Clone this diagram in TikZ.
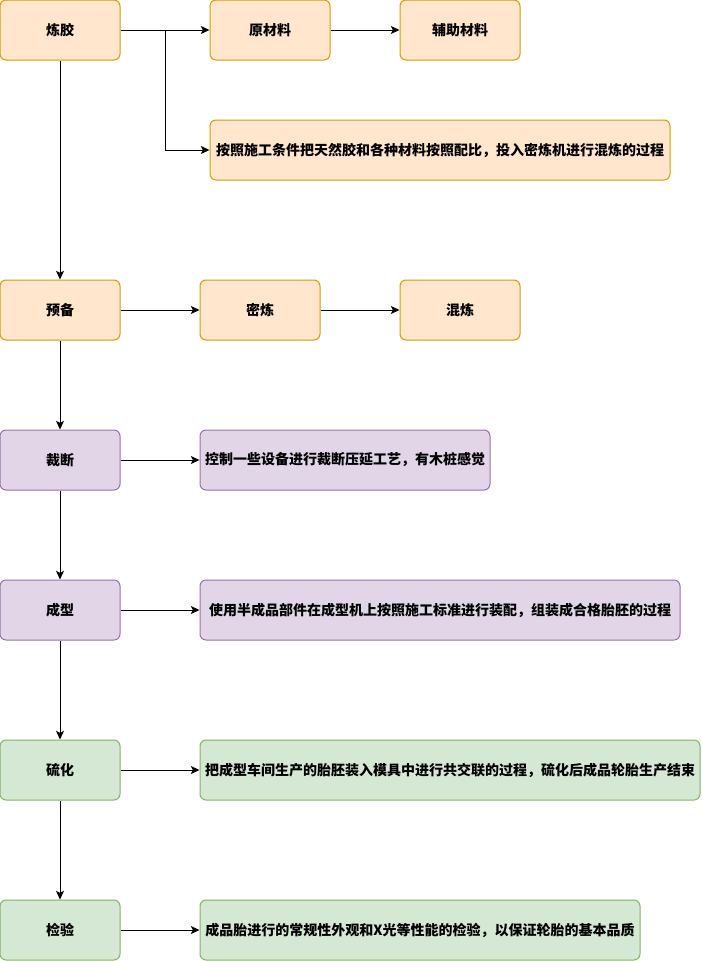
\documentclass[tikz,border=0pt]{standalone}
\usepackage{fontspec}
\newfontfamily\cjk{Noto Sans CJK SC}
\usetikzlibrary{arrows.meta}
\definecolor{orfill}{HTML}{FFE6CC}
\definecolor{ordraw}{HTML}{D79B00}
\definecolor{pufill}{HTML}{E1D5E7}
\definecolor{pudraw}{HTML}{9673A6}
\definecolor{grfill}{HTML}{D5E8D4}
\definecolor{grdraw}{HTML}{82B366}
\begin{document}
\begin{tikzpicture}[x=0.75pt, y=-0.75pt,
    box/.style={draw, rectangle, rounded corners=4.5pt, minimum height=45pt,
                text centered, align=center, line width=0.75pt,
                font=\cjk\bfseries\fontsize{10.5pt}{12pt}\selectfont, inner sep=0pt},
    step1/.style={box, fill=orfill, draw=ordraw},
    step2/.style={box, fill=pufill, draw=pudraw},
    step3/.style={box, fill=grfill, draw=grdraw},
    arr/.style={-{Stealth[length=6.5pt, width=6pt, inset=1.5pt]}, line width=0.75pt}]
    \useasboundingbox (0,0) rectangle (701,961);
    \node[step1, minimum width=90pt]  (lj)    at (60,  30)  {炼胶};
    \node[step1, minimum width=90pt]  (ycl)   at (270, 30)  {原材料};
    \node[step1, minimum width=90pt]  (fzcl)  at (460, 30)  {辅助材料};
    \node[step1, minimum width=345pt] (ljms)  at (440, 150) {按照施工条件把天然胶和各种材料按照配比，投入密炼机进行混炼的过程};
    \node[step1, minimum width=90pt]  (yb)    at (60,  310) {预备};
    \node[step1, minimum width=90pt]  (ml)    at (260, 310) {密炼};
    \node[step1, minimum width=90pt]  (hl)    at (460, 310) {混炼};
    \node[step2, minimum width=90pt]  (cd)    at (60,  460) {裁断};
    \node[step2, minimum width=217.5pt] (cdms) at (345, 460) {控制一些设备进行裁断压延工艺，有木桩感觉};
    \node[step2, minimum width=90pt]  (cx)    at (60,  610) {成型};
    \node[step2, minimum width=360pt] (cxms)  at (440, 610) {使用半成品部件在成型机上按照施工标准进行装配，组装成合格胎胚的过程};
    \node[step3, minimum width=90pt]  (lh)    at (60,  770) {硫化};
    \node[step3, minimum width=375pt] (lhms)  at (450, 770) {把成型车间生产的胎胚装入模具中进行共交联的过程，硫化后成品轮胎生产结束};
    \node[step3, minimum width=90pt]  (jy)    at (60,  930) {检验};
    \node[step3, minimum width=330pt] (jyms)  at (420, 930) {成品胎进行的常规性外观和X光等性能的检验，以保证轮胎的基本品质};
    \draw[arr] (lj) -- (ycl);
    \draw[arr] (ycl) -- (fzcl);
    \draw[arr] (lj.east) -- ++(45,0) |- (ljms.west);
    \draw[arr] (lj) -- (yb);
    \draw[arr] (yb) -- (ml);
    \draw[arr] (ml) -- (hl);
    \draw[arr] (yb) -- (cd);
    \draw[arr] (cd) -- (cdms);
    \draw[arr] (cd) -- (cx);
    \draw[arr] (cx) -- (cxms);
    \draw[arr] (cx) -- (lh);
    \draw[arr] (lh) -- (lhms);
    \draw[arr] (lh) -- (jy);
    \draw[arr] (jy) -- (jyms);
\end{tikzpicture}
\end{document}
